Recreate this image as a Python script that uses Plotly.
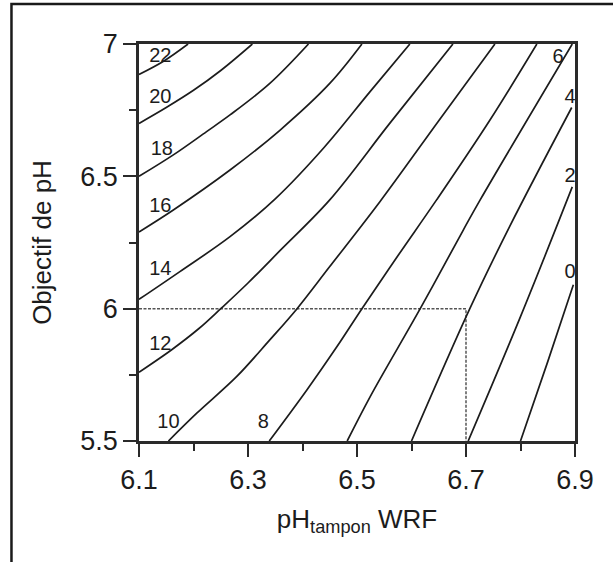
import plotly.graph_objects as go

# Lime requirement isolines: buffer pH (WRF) vs. target pH
x22 = [6.100, 6.145, 6.190]
y22 = [6.885, 6.935, 7.000]
x20 = [6.100, 6.150, 6.200, 6.250, 6.308]
y20 = [6.700, 6.760, 6.825, 6.900, 7.000]
x18 = [6.100, 6.163, 6.224, 6.267, 6.340, 6.411]
y18 = [6.500, 6.581, 6.669, 6.732, 6.851, 7.000]
x16 = [6.100, 6.163, 6.267, 6.359, 6.450, 6.509]
y16 = [6.290, 6.373, 6.524, 6.675, 6.851, 7.000]
x14 = [6.100, 6.175, 6.267, 6.350, 6.440, 6.524, 6.597]
y14 = [6.035, 6.140, 6.272, 6.415, 6.610, 6.820, 7.000]
x12 = [6.100, 6.160, 6.210, 6.250, 6.300, 6.360, 6.450, 6.560, 6.676]
y12 = [5.760, 5.845, 5.925, 6.000, 6.097, 6.222, 6.411, 6.700, 7.000]
x10 = [6.154, 6.206, 6.279, 6.340, 6.390, 6.450, 6.542, 6.650, 6.753]
y10 = [5.500, 5.605, 5.743, 5.882, 6.000, 6.159, 6.404, 6.710, 7.000]
x8 = [6.339, 6.408, 6.463, 6.509, 6.575, 6.646, 6.744, 6.830]
y8 = [5.500, 5.693, 5.856, 6.000, 6.200, 6.411, 6.713, 7.000]
x6 = [6.482, 6.524, 6.616, 6.695, 6.726, 6.895]
y6 = [5.500, 5.667, 6.000, 6.297, 6.411, 7.000]
x4 = [6.600, 6.707, 6.780, 6.894]
y4 = [5.500, 6.000, 6.310, 6.760]
x2 = [6.704, 6.800, 6.895]
y2 = [5.500, 5.970, 6.460]
x0 = [6.800, 6.850, 6.897]
y0 = [5.500, 5.800, 6.090]

levels = [22, 20, 18, 16, 14, 12, 10, 8, 6, 4, 2, 0]
label_x = [6.139, 6.139, 6.142, 6.139, 6.139, 6.139, 6.154, 6.328, 6.869, 6.891, 6.891, 6.891]
label_y = [6.952, 6.795, 6.600, 6.385, 6.146, 5.863, 5.567, 5.567, 6.946, 6.795, 6.499, 6.135]

# Worked example: buffer pH 6.7, target pH 6.0
example_buffer_ph = 6.7
example_target_ph = 6.0

x_ticks = [6.1, 6.3, 6.5, 6.7, 6.9]
y_ticks = [5.5, 6.0, 6.5, 7.0]
y_tick_text = ["5.5", "6", "6.5", "7"]

lines = [(x22, y22), (x20, y20), (x18, y18), (x16, y16), (x14, y14), (x12, y12),
         (x10, y10), (x8, y8), (x6, y6), (x4, y4), (x2, y2), (x0, y0)]

FONT = "Liberation Sans, Arial, Helvetica, sans-serif"
INK = "#1c1c1c"
AXIS = "#2a2a2a"

fig = go.Figure()

fig.add_trace(go.Scatter(
    x=[x_ticks[0], example_buffer_ph, example_buffer_ph],
    y=[example_target_ph, example_target_ph, y_ticks[0]],
    mode="lines", line=dict(color="#555555", width=1.5, dash="3px,1.5px"),
    hoverinfo="skip", showlegend=False))

for (lx, ly) in lines:
    fig.add_trace(go.Scatter(
        x=lx, y=ly, mode="lines",
        line=dict(color=INK, width=1.7, shape="spline", smoothing=1.0),
        hoverinfo="skip", showlegend=False))

fig.add_trace(go.Scatter(
    x=label_x, y=label_y, mode="text", text=[str(v) for v in levels],
    textfont=dict(family=FONT, size=20, color=INK), textposition="middle center",
    cliponaxis=False, hoverinfo="skip", showlegend=False))

axis_common = dict(
    showgrid=False, zeroline=False, showline=True, mirror=True,
    linecolor=AXIS, linewidth=2.6,
    ticks="outside", ticklen=13, tickwidth=2, tickcolor=AXIS,
    tickfont=dict(family=FONT, size=27, color=INK),
)

fig.update_xaxes(
    range=[6.1, 6.9], tickvals=x_ticks, ticktext=[f"{v:.1f}" for v in x_ticks],
    minor=dict(dtick=0.1, tick0=6.1, ticklen=7, tickwidth=2, tickcolor=AXIS, ticks="outside"),
    title=dict(text="pH<sub>tampon</sub> WRF", font=dict(family=FONT, size=26, color=INK), standoff=16),
    **axis_common)
fig.update_yaxes(
    range=[5.5, 7.0], tickvals=y_ticks, ticktext=y_tick_text,
    minor=dict(dtick=0.25, tick0=5.5, ticklen=7, tickwidth=2, tickcolor=AXIS, ticks="outside"),
    title=dict(text="Objectif de pH", font=dict(family=FONT, size=26, color=INK), standoff=22),
    **axis_common)

# Outer frame around the figure
fig.add_shape(type="rect", xref="paper", yref="paper",
              x0=-0.2925, x1=1.2, y0=-0.4, y1=1.1008,
              line=dict(color="#1a1a1a", width=2.5), fillcolor="rgba(0,0,0,0)", layer="above")

fig.update_layout(
    width=613, height=562,
    margin=dict(l=139, r=38, t=44, b=121),
    paper_bgcolor="white", plot_bgcolor="white",
    showlegend=False,
)

fig.write_html("out.html")
